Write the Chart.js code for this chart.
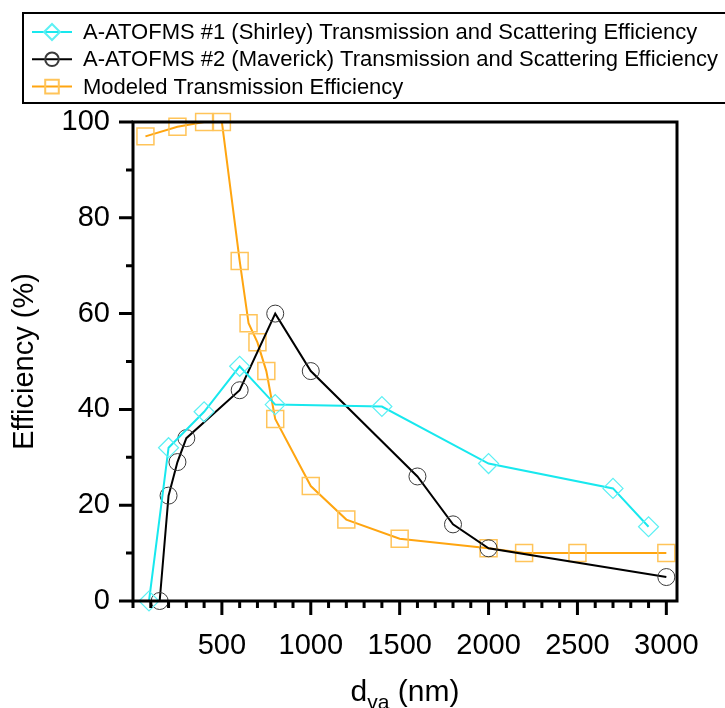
<!DOCTYPE html>
<html>
<head>
<meta charset="utf-8">
<script src="https://cdn.jsdelivr.net/npm/chart.js@4.4.1/dist/chart.umd.min.js"></script>
<style>
  html, body { margin: 0; padding: 0; background: #fff; }
  #wrap { width: 725px; height: 708px; }
</style>
</head>
<body>
<div id="wrap"><canvas id="chart"></canvas></div>
<script>
// d_va (nm) and efficiency (%)
const shirleySize = [90, 200, 400, 600, 800, 1400, 2000, 2700, 2900];
const shirleyEff = [0, 32, 39.5, 49, 41, 40.6, 28.7, 23.5, 15.5];

const maverickSize = [150, 200, 250, 300, 600, 800, 1000, 1600, 1800, 2000, 3000];
const maverickEff = [0, 22, 29, 34, 44, 60, 48, 26, 16, 11, 5];

const modelSize = [70, 250, 400, 500, 600, 650, 700, 750, 800, 1000, 1200, 1500, 2000, 2200, 2500, 3000];
const modelEff = [97, 99, 100, 100, 71, 58, 54, 48, 38, 24, 17, 13, 11, 10, 10, 10];

const seriesNames = [
  'A-ATOFMS #1 (Shirley) Transmission and Scattering Efficiency',
  'A-ATOFMS #2 (Maverick) Transmission and Scattering Efficiency',
  'Modeled Transmission Efficiency',
];

const xTickLabels = [500, 1000, 1500, 2000, 2500, 3000];
const yTickLabels = [0, 20, 40, 60, 80, 100];

const FONT = '"Liberation Sans", Arial, sans-serif';

function pts(xs, ys) {
  return xs.map((x, i) => ({ x: x, y: ys[i] }));
}

// minor ticks every 100 nm up to 3000
function xTicks(scale) {
  const t = [];
  for (let v = 0; v <= 3000; v += 100) t.push({ value: v });
  scale.ticks = t;
}

// frame, tick marks, axis titles and the boxed legend
const decor = {
  id: 'decor',
  afterDraw(chart) {
    const ctx = chart.ctx;
    const a = chart.chartArea;
    const xs = chart.scales.x;
    const ys = chart.scales.y;
    ctx.save();
    ctx.strokeStyle = '#000';
    ctx.lineWidth = 3;
    ctx.strokeRect(a.left, a.top, a.right - a.left, a.bottom - a.top);

    ctx.beginPath();
    xs.ticks.forEach(t => {
      const px = xs.getPixelForValue(t.value);
      const len = xTickLabels.includes(Math.round(t.value)) ? 14 : 7;
      ctx.moveTo(px, a.bottom);
      ctx.lineTo(px, a.bottom + len);
    });
    ys.ticks.forEach(t => {
      const py = ys.getPixelForValue(t.value);
      const len = yTickLabels.includes(Math.round(t.value)) ? 14 : 7;
      ctx.moveTo(a.left, py);
      ctx.lineTo(a.left - len, py);
    });
    ctx.stroke();

    // y title
    ctx.fillStyle = '#000';
    ctx.font = '29px ' + FONT;
    ctx.textAlign = 'center';
    ctx.textBaseline = 'middle';
    ctx.save();
    ctx.translate(25, (a.top + a.bottom) / 2);
    ctx.rotate(-Math.PI / 2);
    ctx.fillText('Efficiency (%)', 0, 0);
    ctx.restore();

    // x title with subscript
    ctx.textAlign = 'left';
    ctx.textBaseline = 'alphabetic';
    const big = '30px ' + FONT, small = '21px ' + FONT;
    ctx.font = big;
    const w1 = ctx.measureText('d').width;
    const w3 = ctx.measureText(' (nm)').width;
    ctx.font = small;
    const w2 = ctx.measureText('va').width;
    const x0 = (a.left + a.right) / 2 - (w1 + w2 + w3) / 2;
    const base = 701;
    ctx.font = big;
    ctx.fillText('d', x0, base);
    ctx.font = small;
    ctx.fillText('va', x0 + w1, base + 8);
    ctx.font = big;
    ctx.fillText(' (nm)', x0 + w1 + w2, base);

    // legend
    ctx.lineWidth = 2;
    ctx.strokeStyle = '#000';
    ctx.strokeRect(23, 13, 740, 90);
    ctx.font = '22px ' + FONT;
    ctx.textBaseline = 'middle';
    chart.data.datasets.forEach((ds, i) => {
      const y = 32 + i * 27.3;
      ctx.strokeStyle = ds.borderColor;
      ctx.lineWidth = 2;
      ctx.beginPath();
      ctx.moveTo(32, y);
      ctx.lineTo(72, y);
      ctx.stroke();
      ctx.strokeStyle = ds.pointBorderColor;
      ctx.fillStyle = 'rgba(0,0,0,0)';
      Chart.helpers.drawPoint(ctx, {
        pointStyle: ds.pointStyle,
        radius: ds.pointRadius * 0.8,
        borderWidth: 1,
        rotation: 0,
      }, 52, y);
      ctx.fillStyle = '#000';
      ctx.fillText(seriesNames[i], 83, y + 1);
    });
    ctx.restore();
  },
};

new Chart(document.getElementById('chart'), {
  type: 'line',
  data: {
    datasets: [
      {
        label: seriesNames[0],
        data: pts(shirleySize, shirleyEff),
        borderColor: '#18E8EE',
        borderWidth: 2,
        pointStyle: 'rectRot',
        pointRadius: 10,
        pointBorderColor: '#5CF0F4',
        pointBackgroundColor: 'rgba(0,0,0,0)',
        pointBorderWidth: 1.2,
        clip: false,
      },
      {
        label: seriesNames[1],
        data: pts(maverickSize, maverickEff),
        borderColor: '#000000',
        borderWidth: 2,
        pointStyle: 'circle',
        pointRadius: 8.5,
        pointBorderColor: '#3a3a3a',
        pointBackgroundColor: 'rgba(0,0,0,0)',
        pointBorderWidth: 1,
        clip: false,
      },
      {
        label: seriesNames[2],
        data: pts(modelSize, modelEff),
        borderColor: '#FFA510',
        borderWidth: 2,
        pointStyle: 'rect',
        pointRadius: 12,
        pointBorderColor: '#FFC459',
        pointBackgroundColor: 'rgba(0,0,0,0)',
        pointBorderWidth: 1.5,
        clip: false,
      },
    ],
  },
  options: {
    responsive: true,
    maintainAspectRatio: false,
    animation: false,
    layout: { padding: { top: 122, right: 48, left: 0, bottom: 0 } },
    plugins: {
      legend: { display: false },
      tooltip: { enabled: false },
    },
    elements: { line: { tension: 0 } },
    scales: {
      x: {
        type: 'linear',
        min: 0,
        max: 3060,
        afterBuildTicks: xTicks,
        afterFit(s) { s.height = 107; },
        grid: { display: false },
        border: { display: false },
        ticks: {
          autoSkip: false,
          maxRotation: 0,
          padding: 20,
          color: '#000',
          font: { family: FONT, size: 29 },
          callback: v => (xTickLabels.includes(Math.round(v)) ? String(Math.round(v)) : ''),
        },
      },
      y: {
        min: 0,
        max: 100,
        afterFit(s) { s.width = 133; },
        grid: { display: false },
        border: { display: false },
        ticks: {
          stepSize: 10,
          autoSkip: false,
          padding: 15,
          color: '#000',
          font: { family: FONT, size: 29 },
          callback: v => (yTickLabels.includes(Math.round(v)) ? String(Math.round(v)) : ''),
        },
      },
    },
  },
  plugins: [decor],
});
</script>
</body>
</html>
